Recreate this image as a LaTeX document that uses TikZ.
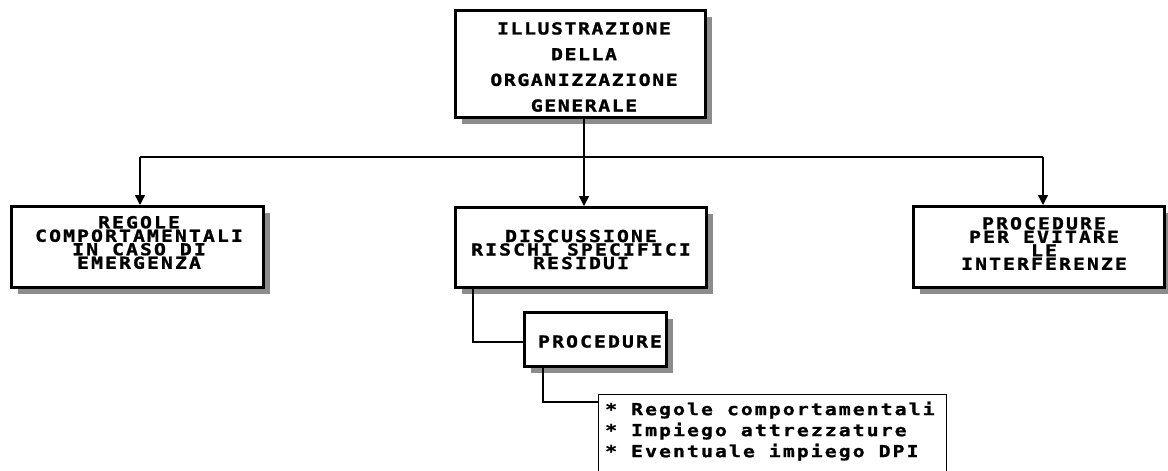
\documentclass[tikz,border=0pt]{standalone}
\usepackage{fontspec}
\usetikzlibrary{shadows,arrows.meta}
\newfontfamily\boxfont{DejaVu Sans Mono Bold}[FakeStretch=1.2, FakeBold=1.2, LetterSpace=12.5]
\newfontfamily\topfont{DejaVu Sans Mono Bold}[FakeStretch=1.2, FakeBold=1.2, LetterSpace=9.5]
\begin{document}
\begin{tikzpicture}[x=1pt,y=-1pt,
  shadowbox/.style={draw=black, line width=3pt, fill=white, inner sep=0pt,
    drop shadow={shadow xshift=6pt, shadow yshift=-6pt, fill=black!45, opacity=1}},
  listbox/.style={draw=black, line width=1.5pt, fill=white, inner sep=0pt},
  boxtext/.style={inner sep=0pt, align=center, font=\boxfont\fontsize{16.5}{13.5}\selectfont},
  toptext/.style={inner sep=0pt, align=center, font=\topfont\fontsize{16.5}{25.7}\selectfont},
  listtext/.style={inner sep=0pt, align=left, font=\boxfont\fontsize{16.5}{21}\selectfont},
  conn/.style={line width=1.4pt},
  arr/.style={line width=1.4pt, -{Triangle[width=10pt,length=10pt]}}
]
\useasboundingbox (0,0) rectangle (1168,471);

% boxes
\node[shadowbox, minimum width=250pt, minimum height=107pt] (top) at (580.5,64) {};
\node[shadowbox, minimum width=252pt, minimum height=81pt] (left) at (137.5,247) {};
\node[shadowbox, minimum width=251pt, minimum height=80pt] (mid) at (581,247.5) {};
\node[shadowbox, minimum width=251pt, minimum height=81pt] (right) at (1039,247) {};
\node[shadowbox, minimum width=142pt, minimum height=54pt] (proc) at (595.5,339.5) {};
\node[listbox, anchor=north west, minimum width=348pt, minimum height=100pt] (list) at (597.75,393.75) {};

% texts
\node[toptext] (ttop) at (584,67) {ILLUSTRAZIONE\\DELLA\\ORGANIZZAZIONE\\GENERALE};
\node[boxtext] (tleft) at (139,242.5) {REGOLE\\COMPORTAMENTALI\\IN CASO DI\\EMERGENZA};
\node[boxtext] (tmid) at (581,249.5) {DISCUSSIONE\\RISCHI SPECIFICI\\RESIDUI};
\node[boxtext] (tright) at (1044,243.5) {PROCEDURE\\PER EVITARE\\LE\\INTERFERENZE};
\node[boxtext] (tproc) at (600,341.5) {PROCEDURE};
\node[listtext, anchor=north west] (tlist) at (605,401.5) {* Regole comportamentali\\* Impiego attrezzature\\* Eventuale impiego DPI};

% connectors
\coordinate (j) at (584,157);
\coordinate (jl) at (140,157);
\coordinate (jr) at (1043,157);
\draw[conn] (j |- top.south) -- (j);
\draw[conn] (jl) -- (jr);
\draw[arr] (jl) -- (jl |- left.north);
\draw[arr] (j) -- (j |- mid.north);
\draw[arr] (jr) -- (jr |- right.north);

\coordinate (k) at (473,342);
\draw[conn] (k |- mid.south) -- (k) -- (k -| proc.west);
\coordinate (m) at (543,402);
\draw[conn] (m |- proc.south) -- (m) -- (m -| list.west);
\end{tikzpicture}
\end{document}
